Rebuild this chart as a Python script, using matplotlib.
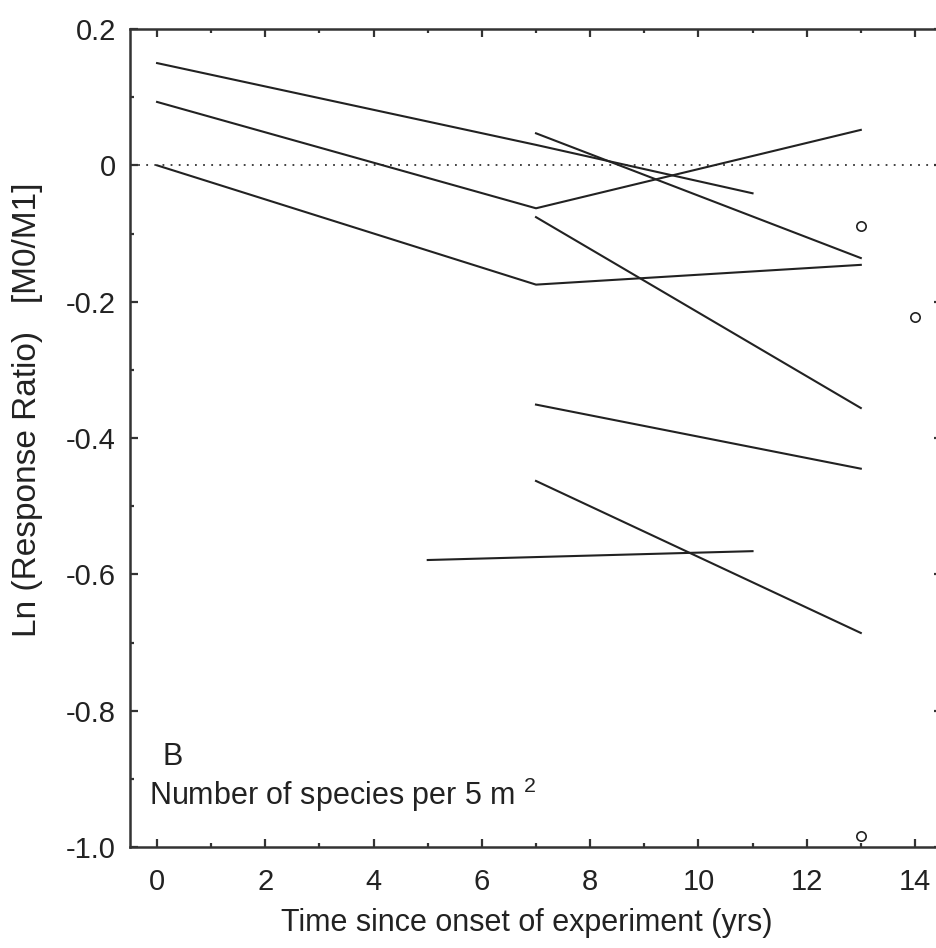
import matplotlib.pyplot as plt
from matplotlib.ticker import MultipleLocator

plt.rcParams['font.family'] = ['Liberation Sans', 'DejaVu Sans']
plt.rcParams['mathtext.fontset'] = 'custom'
plt.rcParams['mathtext.rm'] = 'Liberation Sans'

# each trajectory: years and ln response ratio
seg_x = [
    [0, 7, 11],
    [0, 7, 13],
    [0, 7, 13],
    [7, 13],
    [7, 13],
    [7, 13],
    [7, 13],
    [5, 11],
]
seg_y = [
    [0.150, 0.030, -0.041],
    [0.093, -0.063, 0.052],
    [0.000, -0.175, -0.146],
    [0.047, -0.136],
    [-0.076, -0.356],
    [-0.351, -0.445],
    [-0.463, -0.686],
    [-0.579, -0.566],
]
# single observations
pt_x = [13, 14, 13]
pt_y = [-0.089, -0.223, -0.984]

ytick_vals = [0.2, 0, -0.2, -0.4, -0.6, -0.8, -1.0]
ytick_lbls = ['0.2', '0', '-0.2', '-0.4', '-0.6', '-0.8', '-1.0']

fig = plt.figure(figsize=(9.37, 9.48), dpi=100)
ax = fig.add_axes([130/937, 1-847/948, 812/937, 818/948])

ax.axhline(0, color='#333333', lw=1.3, ls=(0, (1, 3.5)))
for xs, ys in zip(seg_x, seg_y):
    ax.plot(xs, ys, color='#222222', lw=1.5)
ax.scatter(pt_x, pt_y, s=45, facecolors='white', edgecolors='#222222', linewidths=1.2, zorder=3)

ax.set_xlim(-0.5, 14.5)
ax.set_ylim(-1.0, 0.2)
ax.xaxis.set_major_locator(MultipleLocator(2))
ax.xaxis.set_minor_locator(MultipleLocator(1))
ax.yaxis.set_minor_locator(MultipleLocator(0.1))
ax.set_yticks(ytick_vals)
ax.set_yticklabels(ytick_lbls)
ax.tick_params(which='both', direction='in', top=True, right=True, colors='#333333',
               labelcolor='#222222', labelsize=21)
ax.tick_params(axis='x', which='both', pad=15)
ax.tick_params(axis='y', which='both', pad=10)
ax.tick_params(which='major', length=6, width=1.6)
ax.tick_params(which='minor', length=3, width=1.6)
for s in ax.spines.values():
    s.set_linewidth(1.8)
    s.set_color('#333333')

fig.text(527/937, 1-923/948, 'Time since onset of experiment (yrs)', fontsize=22,
         color='#222222', ha='center', va='center')
fig.text(28/937, 1-410/948, 'Ln (Response Ratio)   [M0/M1]', fontsize=24,
         color='#222222', ha='center', va='center', rotation=90)

ax.text(0.295, -0.880, 'B', fontsize=22, color='#222222', ha='center', va='baseline')
ax.text(-0.15, -0.938, 'Number of species per 5 m $^2$', fontsize=22, color='#222222',
        ha='left', va='baseline')

fig.savefig('out.png', dpi=100)
